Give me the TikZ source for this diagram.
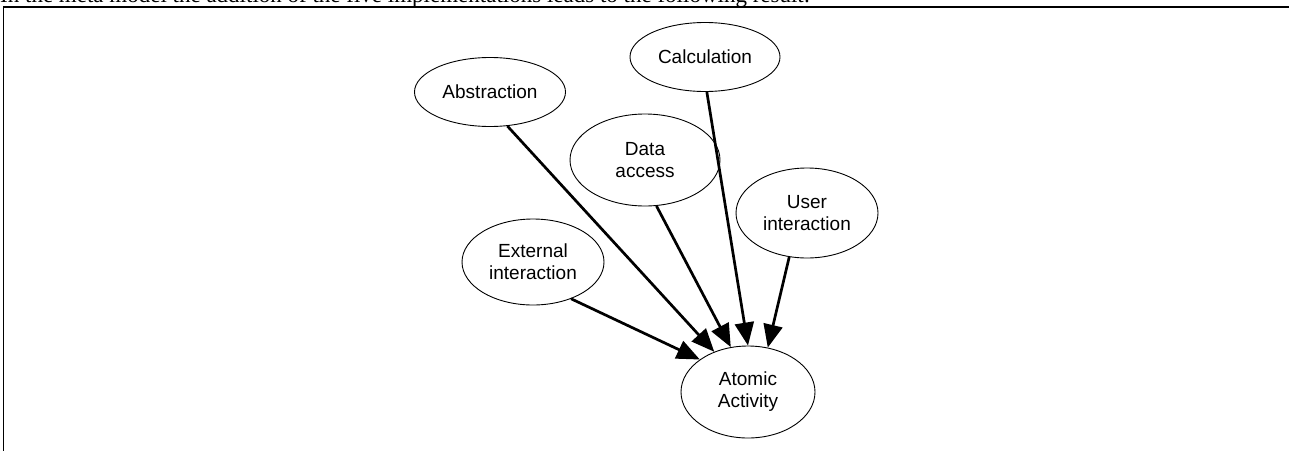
\documentclass[tikz,border=0pt]{standalone}
\usepackage{fontspec}
\setmainfont{Liberation Sans}
\newfontfamily\serifbody{Liberation Serif}
\usetikzlibrary{shapes.geometric,arrows.meta}
\begin{document}
\begin{tikzpicture}[x=1pt,y=-1pt,
  concept/.style={draw,ellipse,line width=0.9pt,inner sep=0pt,align=center,
    font=\fontsize{19}{22}\selectfont},
  link/.style={line width=2.7pt,-{Triangle[length=23pt,width=19pt]}}]
\useasboundingbox (0,0) rectangle (1289,450);
\begin{scope}
\clip (0,0) rectangle (1289,450);
% running text above the figure frame
\node[anchor=base west,inner sep=0pt,font=\serifbody\fontsize{23}{27}\selectfont] (intro) at (0,2)
  {In the meta model the addition of the five implementations leads to the following result:};
% figure frame
\draw[line width=1.1pt] (1289,7) -- (3.5,7) -- (3.5,452);
\end{scope}

\node[concept,minimum width=151pt,minimum height=69pt] (abs) at (490,92) {Abstraction};
\node[concept,minimum width=150pt,minimum height=69pt] (calc) at (705,57) {Calculation};
\node[concept,minimum width=150pt,minimum height=92pt] (data) at (645,160) {Data\\access};
\node[concept,minimum width=142pt,minimum height=90pt] (user) at (807,213) {User\\interaction};
\node[concept,minimum width=142pt,minimum height=86pt] (ext) at (533,262) {External\\interaction};
\node[concept,minimum width=134pt,minimum height=92pt] (atom) at (748,392) {Atomic\\Activity};

\draw[link] (ext.-44) -- (atom.146);
\draw[link] (abs.-63) -- (atom.130);
\draw[link] (data.-76) -- (atom.111);
\draw[link] (calc.-87) -- (atom.90);
\draw[link] (user.-112) -- (atom.66);
\end{tikzpicture}
\end{document}
